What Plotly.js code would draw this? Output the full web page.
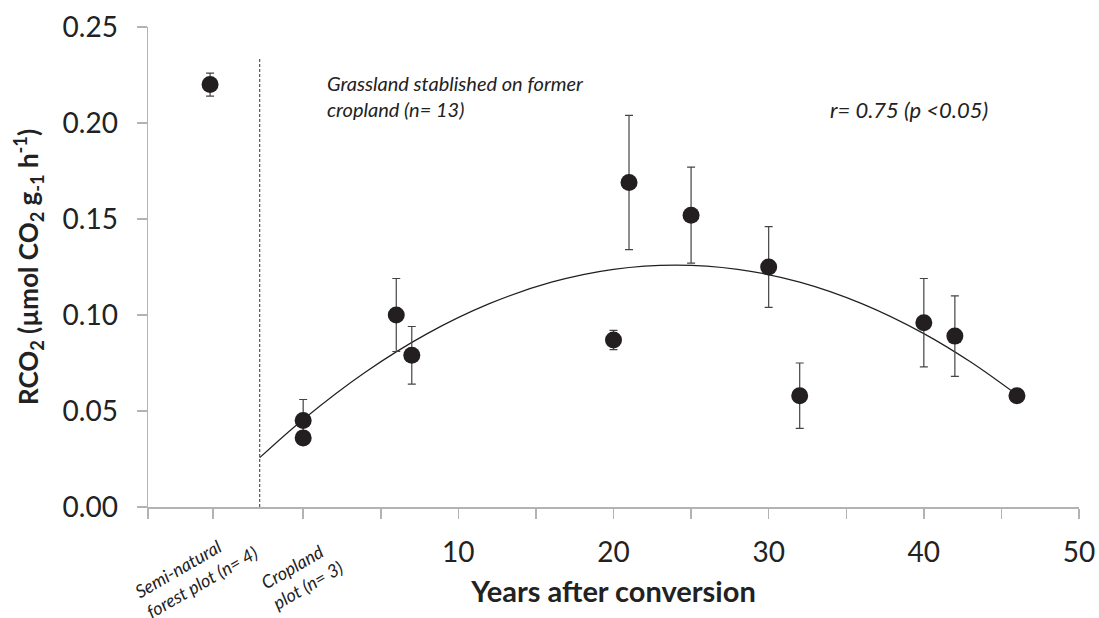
<!DOCTYPE html>
<html>
<head>
<meta charset="utf-8">
<script src="https://cdn.plot.ly/plotly-3.0.1.min.js"></script>
<style>html,body{margin:0;padding:0;background:#fff;}#chart{width:1099px;height:618px;}</style>
</head>
<body>
<div id="chart"></div>
<script>
// Observed plots
const years = [-6, 0, 0, 6, 7, 20, 21, 25, 30, 32, 40, 42, 46];
const rco2 = [0.220, 0.045, 0.036, 0.100, 0.079, 0.087, 0.169, 0.152, 0.125, 0.058, 0.096, 0.089, 0.058];
const errPlus = [0.006, 0.011, 0, 0.019, 0.015, 0.005, 0.035, 0.025, 0.021, 0.017, 0.023, 0.021, 0];
const errMinus = [0.006, 0.011, 0, 0.019, 0.015, 0.005, 0.035, 0.025, 0.021, 0.017, 0.023, 0.021, 0];

// Fitted trend
const trendX = [-2.8, 0, 4, 8, 12, 16, 20, 24, 28, 32, 36, 40, 43, 46];
const trendY = [0.0257, 0.0456, 0.0702, 0.0903, 0.1059, 0.1171, 0.1238, 0.126, 0.1238, 0.1171, 0.1059, 0.0903, 0.0756, 0.0584];

// Divider between reference plots and grassland chronosequence
const dividerX = [-2.8, -2.8];
const dividerY = [0, 0.2335];

// Axis ticks
const xTickVals = [-10, -5.8, 0, 5, 10, 15, 20, 25, 30, 35, 40, 45, 50];
const xTickText = ['', '', '', '', '10', '', '20', '', '30', '', '40', '', '50'];
const yTickVals = [0, 0.05, 0.10, 0.15, 0.20, 0.25];
const yTickText = ['0.00', '0.05', '0.10', '0.15', '0.20', '0.25'];

const FONT = 'Lato, "Open Sans", sans-serif';
const AXIS_GREY = '#b3b3b3';
const INK = '#231f20';

const traces = [
  {
    x: dividerX, y: dividerY, mode: 'lines', type: 'scatter',
    line: {color: '#333', width: 1, dash: '3px,2px'},
    hoverinfo: 'skip', showlegend: false
  },
  {
    x: trendX, y: trendY, mode: 'lines', type: 'scatter',
    line: {color: INK, width: 1.2, shape: 'spline', smoothing: 1},
    hoverinfo: 'skip', showlegend: false
  },
  {
    x: years, y: rco2, mode: 'markers', type: 'scatter',
    marker: {color: INK, size: 17},
    error_y: {type: 'data', symmetric: false, array: errPlus, arrayminus: errMinus,
              color: '#444', thickness: 1.2, width: 4},
    showlegend: false
  }
];

const layout = {
  width: 1099, height: 618,
  margin: {l: 148, r: 20, t: 27, b: 111},
  paper_bgcolor: '#fff', plot_bgcolor: '#fff',
  font: {family: FONT, color: '#222'},
  showlegend: false,
  xaxis: {
    range: [-10, 50], tickmode: 'array', tickvals: xTickVals, ticktext: xTickText,
    showgrid: false, zeroline: false, showline: true, linecolor: AXIS_GREY, linewidth: 1.5,
    ticks: 'outside', ticklen: 10, tickcolor: AXIS_GREY, tickwidth: 1.5,
    tickfont: {family: FONT, size: 28, color: '#222'}, ticklabelstandoff: 10,
    title: {text: 'Years after conversion', font: {family: FONT, size: 29, color: '#222', weight: 'bold'}, standoff: 14}
  },
  yaxis: {
    range: [0, 0.25], tickmode: 'array', tickvals: yTickVals, ticktext: yTickText,
    showgrid: false, zeroline: false, showline: true, linecolor: AXIS_GREY, linewidth: 1.5,
    ticks: 'outside', ticklen: 10, tickcolor: AXIS_GREY, tickwidth: 1.5,
    tickfont: {family: FONT, size: 28, color: '#222'}, ticklabelstandoff: 13,
    title: {text: 'RCO<sub>2</sub> (µmol CO<sub>2</sub> g<sub>-1</sub> h<sup>-1</sup>)', font: {family: FONT, size: 26, color: '#222', weight: 'bold'}, standoff: 16}
  },
  annotations: [
    {x: 1.4, y: 0.228, xref: 'x', yref: 'y', xanchor: 'left', yanchor: 'top', align: 'left', showarrow: false,
     text: '<i>Grassland stablished on former<br>cropland (n= 13)</i>', font: {family: FONT, size: 20, color: '#222'}},
    {x: 33.8, y: 0.2068, xref: 'x', yref: 'y', xanchor: 'left', yanchor: 'middle', showarrow: false,
     text: '<i>r= 0.75 (p <0.05)</i>', font: {family: FONT, size: 22, color: '#222'}},
    {x: -6.9, y: -0.135, xref: 'x', yref: 'paper', xanchor: 'center', yanchor: 'middle', align: 'left', showarrow: false, textangle: -30,
     text: '<i>Semi-natural<br>forest plot (n= 4)</i>', font: {family: FONT, size: 18, color: '#222'}},
    {x: -0.1, y: -0.14, xref: 'x', yref: 'paper', xanchor: 'center', yanchor: 'middle', align: 'left', showarrow: false, textangle: -30,
     text: '<i>Cropland<br>plot (n= 3)</i>', font: {family: FONT, size: 18, color: '#222'}}
  ]
};

Plotly.newPlot('chart', traces, layout, {displayModeBar: false, staticPlot: true});
</script>
</body>
</html>
